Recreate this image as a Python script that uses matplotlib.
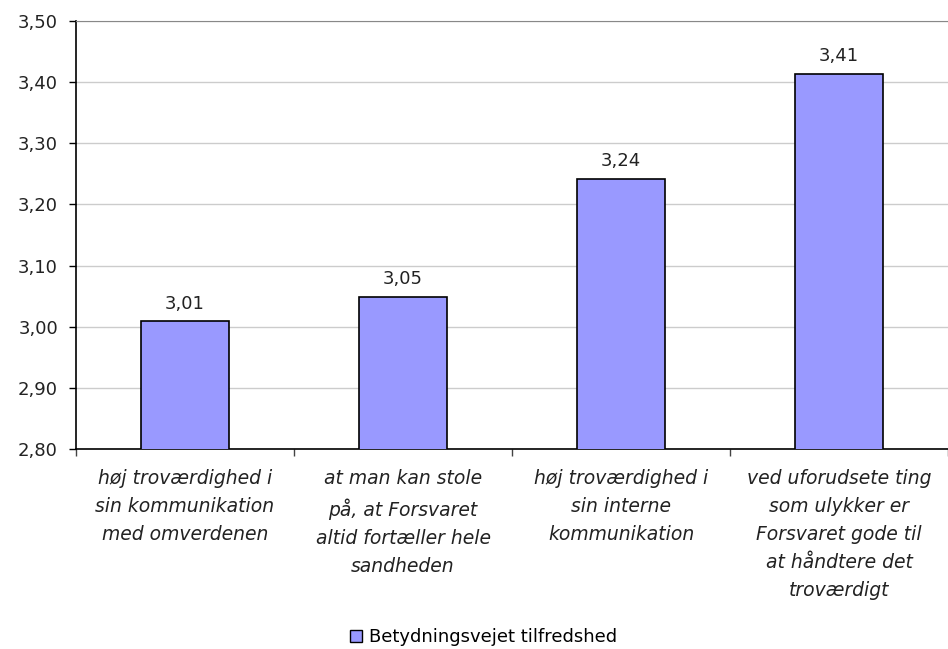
import numpy as np
import matplotlib.pyplot as plt
from matplotlib.patches import Patch

categories = [
    "høj troværdighed i\nsin kommunikation\nmed omverdenen",
    "at man kan stole\npå, at Forsvaret\naltid fortæller hele\nsandheden",
    "høj troværdighed i\nsin interne\nkommunikation",
    "ved uforudsete ting\nsom ulykker er\nForsvaret gode til\nat håndtere det\ntroværdigt",
]
values = [3.009, 3.049, 3.242, 3.414]
yticks = [2.80, 2.90, 3.00, 3.10, 3.20, 3.30, 3.40, 3.50]
series_name = "Betydningsvejet tilfredshed"

plt.rcParams['font.family'] = ['DejaVu Sans']
fig = plt.figure(figsize=(9.48, 6.49), dpi=100)
ax = fig.add_axes([76/948, 1-449/649, 872/948, 428/649])

x = np.arange(len(values))
ax.bar(x, values, width=0.4, color='#9999ff', edgecolor='black', linewidth=1.2, zorder=3)
for xi, v in zip(x, values):
    ax.annotate(f"{v:.2f}".replace('.', ','), (xi, v), xytext=(0, 6), textcoords='offset points',
                ha='center', va='bottom', fontsize=13, color='#222222')

ax.set_xlim(-0.5, len(values) - 0.5)
ax.set_ylim(2.80, 3.50)
ax.set_yticks(yticks)
ax.set_yticklabels([f"{t:.2f}".replace('.', ',') for t in yticks], fontsize=13, color='#222222')
ax.yaxis.grid(True, color='#cccccc', linewidth=1.0, zorder=0)
ax.spines['right'].set_visible(False)
ax.spines['top'].set_color('#888888')
ax.spines['left'].set_linewidth(1.2)
ax.spines['bottom'].set_linewidth(1.2)
ax.tick_params(axis='y', length=5, direction='out', width=1, pad=8)

# category boundaries as ticks
ax.set_xticks(np.arange(-0.5, len(values), 1.0))
ax.set_xticklabels([])
ax.tick_params(axis='x', length=5, direction='out', width=1, color='#444444')
for xi, cat in zip(x, categories):
    ax.text(xi, -0.047, cat, transform=ax.get_xaxis_transform(), ha='center', va='top',
            fontsize=13.5, style='italic', linespacing=1.6, color='#222222')

leg = fig.legend(handles=[Patch(facecolor='#9999ff', edgecolor='black', label=series_name)],
                 loc='center', bbox_to_anchor=(0.5 + 10/948, 1 - 637/649), frameon=False,
                 fontsize=13, handlelength=0.65, handleheight=0.65, handletextpad=0.4)

fig.savefig('out.png', dpi=100)
